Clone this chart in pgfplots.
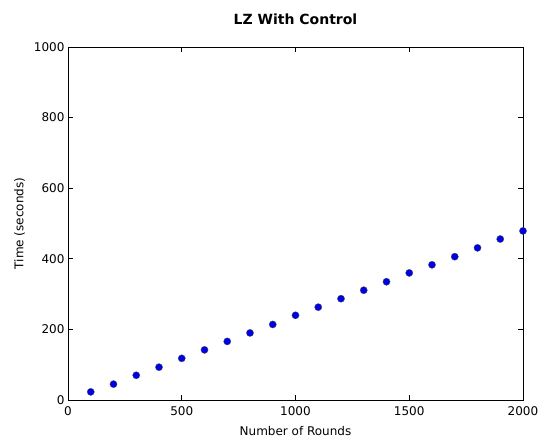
\documentclass[border=0pt]{standalone}
\usepackage{pgfplots}
\pgfplotsset{compat=1.18}
\usepackage{fontspec}
\setmainfont{DejaVu Sans}
\begin{document}
\begin{tikzpicture}
\useasboundingbox (-68pt,-39pt) rectangle (471pt,400pt);
\begin{axis}[
  at={(0pt,0pt)}, anchor=south west,
  scale only axis, width=455pt, height=353pt,
  xmin=0, xmax=2000, ymin=0, ymax=1000,
  xtick={0,500,1000,1500,2000},
  ytick={0,200,400,600,800,1000},
  tick align=inside, major tick length=5pt,
  xtick pos=both, ytick pos=both,
  tick style={black, line width=0.6pt},
  axis line style={black, line width=0.8pt},
  /pgf/number format/assume math mode=true,
  /pgf/number format/1000 sep={},
  tick label style={font=\fontsize{12}{14}\selectfont},
  xticklabel style={yshift=-3pt},
  label style={font=\fontsize{12}{14}\selectfont},
  xlabel={Number of Rounds},
  ylabel={Time (seconds)},
  title={\bfseries LZ With Control},
  title style={font=\fontsize{14}{16}\selectfont, yshift=13pt},
  xlabel style={yshift=-4pt},
  ylabel style={yshift=2pt},
  clip=false,
]
\addplot[only marks, mark=*, mark size=3.6pt,
  mark options={fill={rgb,255:red,0;green,0;blue,230}, draw=black!70, line width=0.3pt}]
  coordinates {
  (100,23) (200,45) (300,70) (400,93) (500,118)
  (600,142) (700,166) (800,190) (900,214) (1000,240)
  (1100,263) (1200,287) (1300,311) (1400,335) (1500,360)
  (1600,383) (1700,406) (1800,431) (1900,456) (2000,479)
  };
\end{axis}
\end{tikzpicture}
\end{document}
